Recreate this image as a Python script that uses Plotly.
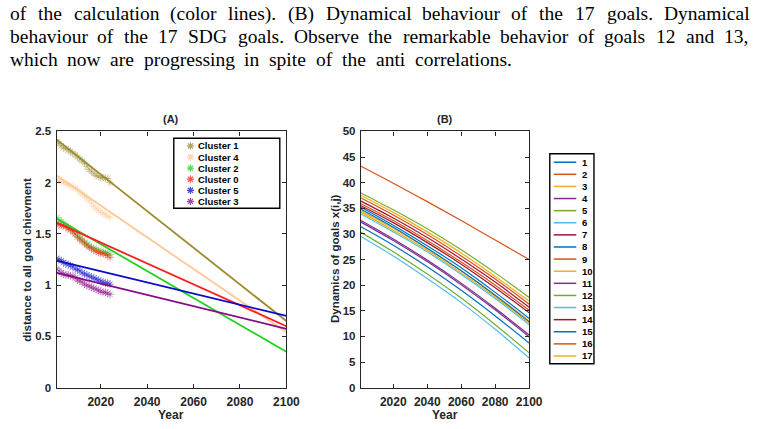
import plotly.graph_objects as go

# ---------------- data ----------------
years_obs = [2001, 2002, 2003, 2004, 2005, 2006, 2007, 2008, 2009, 2010, 2011, 2012,
             2013, 2014, 2015, 2016, 2017, 2018, 2019, 2020, 2021, 2022, 2023, 2024]
cluster_names = ["Cluster 1", "Cluster 4", "Cluster 2", "Cluster 0", "Cluster 5", "Cluster 3"]
cluster_colors = ["#9C8A2E", "#FFC896", "#1ED21E", "#FF1E1E", "#0A0ACD", "#860A86"]
obs_c1 = [2.40, 2.38, 2.36, 2.34, 2.33, 2.32, 2.30, 2.29, 2.27, 2.25, 2.23, 2.21,
          2.19, 2.16, 2.13, 2.11, 2.09, 2.07, 2.06, 2.05, 2.05, 2.04, 2.04, 2.00]
obs_c4 = [2.03, 2.02, 2.01, 2.00, 1.99, 1.98, 1.97, 1.96, 1.95, 1.93, 1.91, 1.89,
          1.87, 1.85, 1.83, 1.80, 1.77, 1.75, 1.73, 1.71, 1.70, 1.69, 1.67, 1.66]
obs_c2 = [1.66, 1.64, 1.62, 1.60, 1.58, 1.56, 1.55, 1.53, 1.50, 1.48, 1.46, 1.44,
          1.42, 1.40, 1.38, 1.37, 1.36, 1.35, 1.34, 1.33, 1.32, 1.32, 1.31, 1.30]
obs_c0 = [1.60, 1.59, 1.58, 1.58, 1.57, 1.55, 1.54, 1.52, 1.50, 1.47, 1.45, 1.43,
          1.41, 1.39, 1.37, 1.36, 1.34, 1.33, 1.32, 1.31, 1.31, 1.30, 1.29, 1.27]
obs_c5 = [1.26, 1.25, 1.24, 1.22, 1.21, 1.20, 1.19, 1.18, 1.16, 1.15, 1.14, 1.12,
          1.11, 1.10, 1.09, 1.08, 1.07, 1.06, 1.05, 1.04, 1.03, 1.02, 1.02, 1.01]
obs_c3 = [1.16, 1.14, 1.12, 1.11, 1.10, 1.10, 1.09, 1.09, 1.07, 1.05, 1.04, 1.03,
          1.01, 1.00, 0.99, 0.98, 0.97, 0.96, 0.95, 0.94, 0.93, 0.93, 0.92, 0.91]
fit_years = [2001, 2100]
fit_c1 = [2.42, 0.65]
fit_c4 = [2.07, 0.54]
fit_c2 = [1.65, 0.35]
fit_c0 = [1.61, 0.60]
fit_c5 = [1.24, 0.70]
fit_c3 = [1.12, 0.575]
obs_series = [obs_c1, obs_c4, obs_c2, obs_c0, obs_c5, obs_c3]
fit_series = [fit_c1, fit_c4, fit_c2, fit_c0, fit_c5, fit_c3]

goal_years = [2001, 2020, 2040, 2060, 2080, 2100]
g1 = [35.2, 31.7, 27.7, 23.4, 18.6, 13.5]
g2 = [43.2, 39.9, 36.3, 32.6, 28.8, 25.0]
g3 = [34.5, 31.1, 27.1, 22.8, 18.1, 13.0]
g4 = [32.6, 29.0, 24.9, 20.4, 15.5, 10.3]
g5 = [38.0, 34.7, 31.0, 26.9, 22.4, 17.6]
g6 = [33.9, 30.4, 26.5, 22.1, 17.4, 12.3]
g7 = [35.5, 32.2, 28.3, 24.1, 19.5, 14.6]
g8 = [34.8, 31.3, 27.2, 22.8, 18.0, 12.8]
g9 = [35.9, 32.6, 28.7, 24.5, 20.0, 15.1]
g10 = [37.5, 34.2, 30.4, 26.3, 21.7, 16.9]
g11 = [32.3, 28.7, 24.6, 20.1, 15.2, 9.9]
g12 = [30.3, 26.5, 22.2, 17.5, 12.3, 6.8]
g13 = [29.5, 25.7, 21.3, 16.6, 11.4, 5.8]
g14 = [36.4, 33.1, 29.3, 25.1, 20.6, 15.7]
g15 = [31.4, 27.8, 23.6, 19.0, 14.0, 8.7]
g16 = [37.0, 33.7, 29.9, 25.7, 21.2, 16.3]
g17 = [34.2, 30.7, 26.8, 22.4, 17.7, 12.6]
goal_series = [g1, g2, g3, g4, g5, g6, g7, g8, g9, g10, g11, g12, g13, g14, g15, g16, g17]
goal_labels = [str(i) for i in range(1, 18)]
matlab_colors = ["#0072BD", "#D95319", "#EDB120", "#7E2F8E", "#77AC30", "#4DBEEE", "#A2142F"]

x_ticks = [2020, 2040, 2060, 2080, 2100]
caption_lines = [
    "of the calculation (color lines). (B) Dynamical behaviour of the 17 goals. Dynamical",
    "behaviour of the 17 SDG goals. Observe the remarkable behavior of goals 12 and 13,",
    "which now are progressing in spite of the anti correlations.",
]

# ---------------- layout helpers ----------------
W, H = 768, 429
def px(x):
    return x / W
def py(y):
    return 1 - y / H

axA = [57.7, 291.7]
axB = [367.7, 539.0]
ax_top, ax_bot = 129.0, 392.7
AXC = "#262626"

fig = go.Figure()

# Panel A: observations then fitted lines
for name, col, obs in zip(cluster_names, cluster_colors, obs_series):
    fig.add_trace(go.Scatter(x=years_obs, y=obs, mode="markers", xaxis="x", yaxis="y",
                             marker=dict(symbol="asterisk-open", size=6.5, color=col, opacity=0.42,
                                         line=dict(width=1, color=col)),
                             hoverinfo="skip"))
for name, col, fit in zip(cluster_names, cluster_colors, fit_series):
    fig.add_trace(go.Scatter(x=fit_years, y=fit, mode="lines", xaxis="x", yaxis="y",
                             line=dict(color=col, width=1.8), hoverinfo="skip"))

# Panel B
for i, g in enumerate(goal_series):
    fig.add_trace(go.Scatter(x=goal_years, y=g, mode="lines", xaxis="x2", yaxis="y2",
                             line=dict(color=matlab_colors[i % 7], width=1.2, shape="spline"),
                             hoverinfo="skip"))

xtickfont = dict(family="Liberation Sans", size=12, color=AXC, weight="bold")
ytickfont = dict(family="Liberation Sans", size=11.5, color=AXC, weight="bold")
common = dict(showline=True, linecolor=AXC, linewidth=1.4, mirror="ticks", ticks="inside",
              ticklen=4, tickwidth=1.2, tickcolor=AXC, showgrid=False, zeroline=False,
              fixedrange=True)

fig.update_layout(
    width=W, height=H, margin=dict(l=0, r=0, t=0, b=0),
    paper_bgcolor="white", plot_bgcolor="rgba(0,0,0,0)", showlegend=False,
    xaxis=dict(domain=[px(axA[0]), px(axA[1])], range=[2001, 2100], tickvals=x_ticks,
               anchor="y", ticklabelstandoff=3, tickfont=xtickfont, **common),
    yaxis=dict(domain=[py(ax_bot), py(ax_top)], range=[0, 2.5], tickvals=[0, 0.5, 1, 1.5, 2, 2.5],
               ticktext=["0", "0.5", "1", "1.5", "2", "2.5"], anchor="x", ticklabelstandoff=2,
               tickfont=ytickfont, **common),
    xaxis2=dict(domain=[px(axB[0]), px(axB[1])], range=[2001, 2100], tickvals=x_ticks,
                anchor="y2", ticklabelstandoff=3, tickfont=xtickfont, **common),
    yaxis2=dict(domain=[py(ax_bot), py(ax_top)], range=[0, 50], dtick=5, anchor="x2",
                ticklabelstandoff=2, tickfont=ytickfont, **common),
    xaxis3=dict(domain=[0, 1], range=[0, W], visible=False, anchor="y3", fixedrange=True),
    yaxis3=dict(domain=[0, 1], range=[H, 0], visible=False, anchor="x3", fixedrange=True),
)

ann = []
shapes = []
bold = dict(family="Liberation Sans", color=AXC, weight="bold")

# titles and axis labels
ann.append(dict(x=px(174), y=py(116.5), text="(A)", font=dict(size=11, **bold)))
ann.append(dict(x=px(453), y=py(116.5), text="(B)", font=dict(size=11, **bold)))
ann.append(dict(x=px(174), y=py(420.5), text="Year", font=dict(size=12, **bold)))
ann.append(dict(x=px(453), y=py(420.5), text="Year", font=dict(size=12, **bold)))
ann.append(dict(x=px(27.5), y=py(261), text="distance to all goal chievment", textangle=-90,
                font=dict(size=11.5, **bold)))
ann.append(dict(x=px(340.5), y=py(260), text="Dynamics of goals x(i,j)", textangle=-90,
                font=dict(size=11.5, **bold)))

# legend A (manual, compact like MATLAB)
shapes.append(dict(type="rect", xref="paper", yref="paper", x0=px(177), x1=px(285),
                   y0=py(208), y1=py(136), line=dict(color="#000000", width=1.4),
                   fillcolor="white", layer="below"))
legA_y = [144 + 11.4 * i for i in range(len(cluster_names))]
fig.add_trace(go.Scatter(x=[194] * len(cluster_names), y=legA_y, mode="markers",
                         xaxis="x3", yaxis="y3", hoverinfo="skip",
                         marker=dict(symbol="asterisk-open", size=6, color=cluster_colors,
                                     opacity=0.75, line=dict(width=1.2, color=cluster_colors))))
for name, yy in zip(cluster_names, legA_y):
    ann.append(dict(x=px(199.5), y=py(yy), text=name, xanchor="left",
                    font=dict(size=9.5, family="Liberation Sans", color="#000000", weight="bold")))

# legend B
shapes.append(dict(type="rect", xref="paper", yref="paper", x0=px(560), x1=px(605),
                   y0=py(368), y1=py(152), line=dict(color="#000000", width=1.4),
                   fillcolor="white", layer="below"))
for i, lab in enumerate(goal_labels):
    yy = 160.7 + 12.46 * i
    shapes.append(dict(type="line", xref="paper", yref="paper", x0=px(564), x1=px(587),
                       y0=py(yy), y1=py(yy), line=dict(color=matlab_colors[i % 7], width=1.5)))
    ann.append(dict(x=px(590.5), y=py(yy), text=lab, xanchor="left",
                    font=dict(size=9.5, family="Liberation Sans", color="#000000", weight="bold")))

# caption text (justified word placement, Times metrics)
TW = dict(a=444, b=500, c=444, d=500, e=444, f=333, g=500, h=500, i=278, j=278, k=500, l=278,
          m=778, n=500, o=500, p=500, q=500, r=333, s=389, t=278, u=500, v=500, w=722, x=500,
          y=500, z=444)
TW.update({"B": 667, "D": 722, "G": 722, "O": 722, "S": 556, "(": 333, ")": 333, ".": 250,
           ",": 250, "1": 500, "2": 500, "3": 500, "7": 500})
cap_size = 19.5
def wwidth(s):
    return sum(TW.get(ch, 500) for ch in s) / 1000 * cap_size
cap_y = [8.0, 31.5, 55.0]
cap_right = [760, 760, 518]
for line, yy, right in zip(caption_lines, cap_y, cap_right):
    words = line.split(" ")
    total = sum(wwidth(w) for w in words)
    gap = (right - 8 - total) / (len(words) - 1)
    xx = 8.0
    for w in words:
        ann.append(dict(x=px(xx), y=py(yy), text=w, xanchor="left",
                        font=dict(size=cap_size, family="Liberation Serif", color="#000000")))
        xx += wwidth(w) + gap

for a in ann:
    a.setdefault("xref", "paper")
    a.setdefault("yref", "paper")
    a.setdefault("showarrow", False)
    a.setdefault("yanchor", "middle")
    a.setdefault("xanchor", "center")
fig.update_layout(annotations=ann, shapes=shapes)

fig.write_html("out.html", config=dict(displayModeBar=False))
